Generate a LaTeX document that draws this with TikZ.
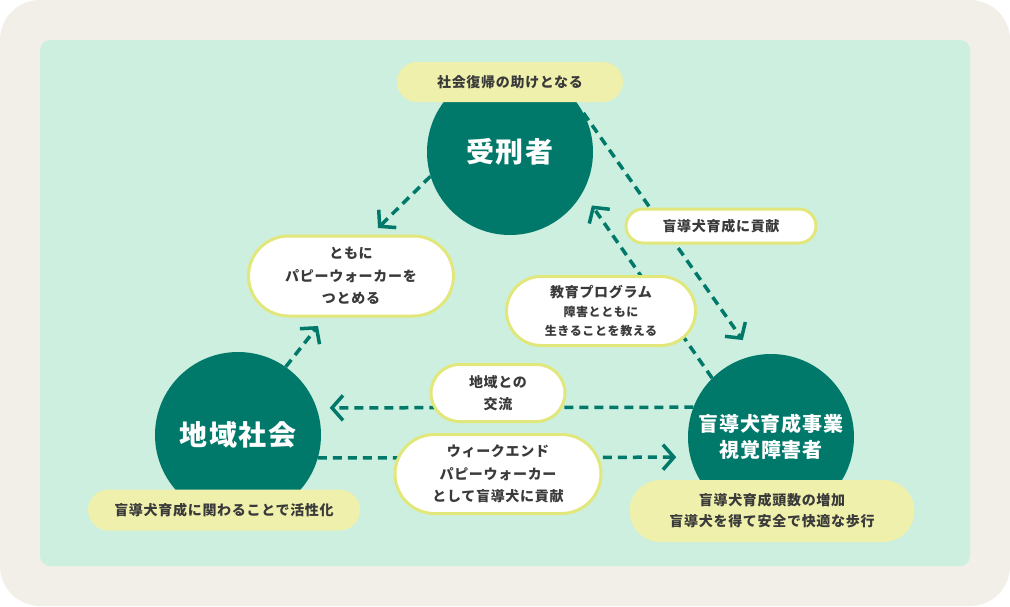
\documentclass[tikz,border=0pt]{standalone}
\usepackage{fontspec}
\setmainfont{Noto Sans CJK JP}
\usepackage{tikz}
\usetikzlibrary{shapes.misc, arrows.meta, positioning}
\usepackage{xcolor}

\definecolor{frame}{HTML}{F1EFE7}
\definecolor{mint}{HTML}{CCEFDF}
\definecolor{hubgreen}{HTML}{00796B}
\definecolor{tagyellow}{HTML}{EEF0AC}
\definecolor{pillline}{HTML}{E2E77C}
\definecolor{ink}{HTML}{3A3A3A}

\pgfdeclarelayer{back}
\pgfdeclarelayer{lines}
\pgfsetlayers{back,lines,main}

\begin{document}
\begin{tikzpicture}[x=1pt, y=-1pt,
  hub/.style={circle, fill=hubgreen, text=white, minimum size=166pt, inner sep=0pt,
              align=center, font=\bfseries\addfontfeatures{LetterSpace=6}\fontsize{28}{34}\selectfont},
  pill/.style={rounded rectangle, fill=white, draw=pillline, line width=3pt, inner sep=0pt,
               align=center, text=ink, font=\bfseries\addfontfeatures{LetterSpace=5}\fontsize{14}{22.5}\selectfont},
  tag/.style={rounded rectangle, fill=tagyellow, inner sep=0pt,
              align=center, text=ink, font=\bfseries\addfontfeatures{LetterSpace=5}\fontsize{14}{21}\selectfont},
  link/.style={draw=hubgreen, line width=3.5pt, dash pattern=on 9pt off 6pt,
               -{Straight Barb[length=11pt, width=25pt]}}]
\useasboundingbox (0,0) rectangle (1010,606);
%
\begin{pgfonlayer}{back}
\fill[frame, rounded corners=40pt] (0,0) rectangle (1010,606);
\fill[mint, rounded corners=10pt] (40,40) rectangle (970,566);
\end{pgfonlayer}
%
% the three actors
\node[hub] (jukei) at (510,152) {受刑者};
\node[hub] (chiiki) at (238,435) {地域社会};
\node[hub, font=\bfseries\addfontfeatures{LetterSpace=4}\fontsize{20}{26}\selectfont] (moudou) at (771,437) {盲導犬育成事業\\視覚障害者};
%
% yellow tags
\node[tag, minimum width=226pt, minimum height=40pt] (fukki) at (510,82) {社会復帰の助けとなる};
\node[tag, minimum width=272pt, minimum height=41pt] (kasseika) at (224,510) {盲導犬育成に関わることで活性化};
\node[tag, minimum width=285pt, minimum height=62pt] (hokou) at (772,511) {盲導犬育成頭数の増加\\盲導犬を得て安全で快適な歩行};
%
% white pills
\node[pill, minimum width=205pt, minimum height=80pt] (tomoni) at (351,276) {ともに\\パピーウォーカーを\\つとめる};
\node[pill, minimum width=190pt, minimum height=34pt] (kouken) at (721,226) {盲導犬育成に貢献};
\node[pill, minimum width=189pt, minimum height=69pt, font=\bfseries\addfontfeatures{LetterSpace=5}\fontsize{14}{19}\selectfont] (kyouiku) at (601,311)
  {教育プログラム\\{\fontsize{12}{19}\selectfont 障害とともに}\\{\fontsize{12}{19}\selectfont 生きることを教える}};
\node[pill, minimum width=134pt, minimum height=57pt] (kouryuu) at (498,393) {地域との\\交流};
\node[pill, minimum width=206pt, minimum height=79pt] (weekend) at (498,474) {ウィークエンド\\パピーウォーカー\\として盲導犬に貢献};
%
\coordinate (tomoniA) at (378,228);
\coordinate (tomoniB) at (318,326);
%
\begin{pgfonlayer}{lines}
\draw[link] (jukei.197) -- (tomoniA);
\draw[link] (chiiki.55) -- (tomoniB);
\draw[link, shorten >=19pt] (jukei.28) -- (moudou.102);
\draw[link, shorten >=16pt] (moudou.135) -- (jukei.331);
\draw[link, shorten >=13pt] (moudou.159.5) -- (chiiki.19);
\draw[link, shorten >=14pt] (chiiki.344.6) -- (moudou.194);
\end{pgfonlayer}
%
\end{tikzpicture}
\end{document}
